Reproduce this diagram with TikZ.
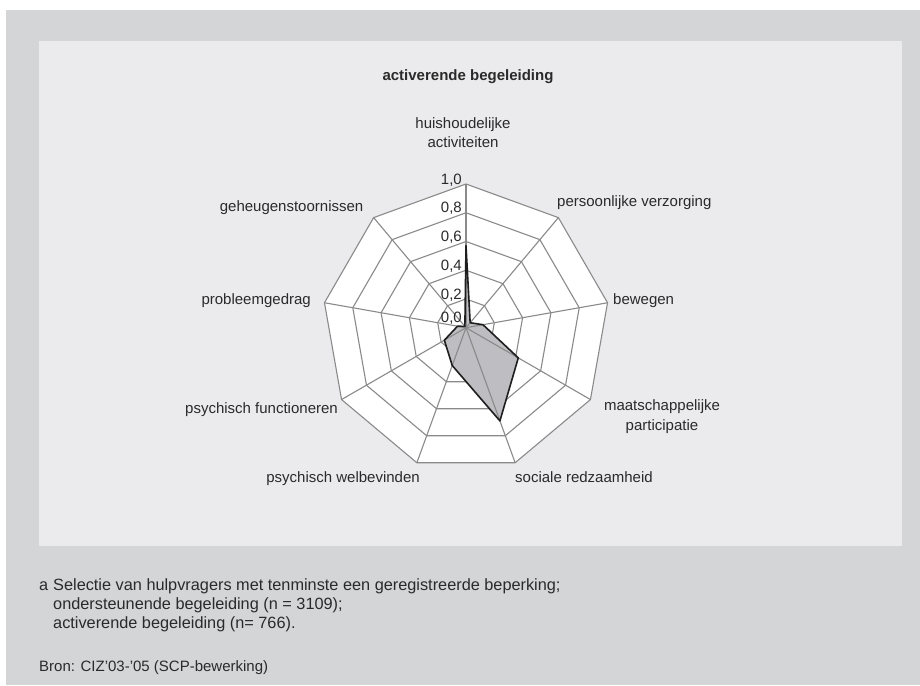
\documentclass[tikz,border=0pt]{standalone}
\usepackage{fontspec}
\setmainfont{Liberation Sans}
\definecolor{outerbg}{HTML}{D4D5D7}
\definecolor{panelbg}{HTML}{EBEBED}
\definecolor{txt}{HTML}{2A2A2A}
\definecolor{gridc}{HTML}{8A8A8A}
\definecolor{areafill}{HTML}{BEBEC2}
\definecolor{areaedge}{HTML}{1E1E1E}
\begin{document}
\begin{tikzpicture}[x=1pt,y=-1pt,
  lbl/.style={font=\fontsize{15}{18}\selectfont, text=txt, inner sep=0pt},
  note/.style={font=\fontsize{16.3}{19}\selectfont, text=txt, inner sep=0pt},
  ttl/.style={font=\fontsize{15}{18}\selectfont\bfseries, text=txt, inner sep=0pt},
  gridline/.style={draw=gridc, line width=1.1pt, line join=miter},
  area/.style={fill=areafill},
  arealine/.style={draw=areaedge, line width=1.6pt, line join=round}]
\useasboundingbox (0,0) rectangle (920,685);
% page, outer frame and chart panel
\fill[white] (0,0) rectangle (920,685);
\fill[outerbg] (6,10) rectangle (920,685);
\fill[panelbg] (39,41) rectangle (902,546);

% radar web: centre and full radius
\def\cx{466}\def\cy{327.7}\def\R{143.7}
\coordinate (O) at (\cx,\cy);
\foreach \i in {0,...,8}
  \coordinate (v\i) at ({\cx+\R*cos(90-40*\i)},{\cy-\R*sin(90-40*\i)});
\fill[white] (v0) -- (v1) -- (v2) -- (v3) -- (v4) -- (v5) -- (v6) -- (v7) -- (v8) -- cycle;
\foreach \k in {1,...,5}{
  \pgfmathsetmacro\r{\k*\R/5}
  \draw[gridline] ({\cx+\r*cos(90)},{\cy-\r*sin(90)})
    \foreach \i in {1,...,8}{ -- ({\cx+\r*cos(90-40*\i)},{\cy-\r*sin(90-40*\i)}) } -- cycle;
}

% data series
\foreach \v [count=\i from 0] in {0.57,0.045,0.12,0.42,0.69,0.28,0.174,0.06,0.012}
  \coordinate (d\i) at ({\cx+\v*\R*cos(90-40*\i)},{\cy-\v*\R*sin(90-40*\i)});
\fill[area] (d0) -- (d1) -- (d2) -- (d3) -- (d4) -- (d5) -- (d6) -- (d7) -- (d8) -- cycle;
% spokes
\foreach \i in {0,...,8} \draw[gridline] (O) -- (v\i);
\draw[arealine] (d0) -- (d1) -- (d2) -- (d3) -- (d4) -- (d5) -- (d6) -- (d7) -- (d8) -- cycle;

% scale values
\foreach \yy/\t [count=\n] in {184/{1,0},212.7/{0,8},241.5/{0,6},270.2/{0,4},299/{0,2},322/{0,0}}
  \node[lbl, anchor=base east] (s\n) at (462,\yy) {\t};

% title
\node[ttl, anchor=base] (title) at (468,80.7) {activerende begeleiding};

% axis labels
\node[lbl, anchor=base] (ax0a) at (463,128) {huishoudelijke};
\node[lbl, anchor=base] (ax0b) at (463,147) {activiteiten};
\node[lbl, anchor=base west] (ax1) at (557,206) {persoonlijke verzorging};
\node[lbl, anchor=base west] (ax2) at (613,304) {bewegen};
\node[lbl, anchor=base] (ax3a) at (662,410) {maatschappelijke};
\node[lbl, anchor=base] (ax3b) at (662,430.5) {participatie};
\node[lbl, anchor=base west] (ax4) at (515,482.7) {sociale redzaamheid};
\node[lbl, anchor=base east] (ax5) at (420,482.7) {psychisch welbevinden};
\node[lbl, anchor=base east] (ax6) at (338,413) {psychisch functioneren};
\node[lbl, anchor=base east] (ax7) at (311,304) {probleemgedrag};
\node[lbl, anchor=base east] (ax8) at (363.5,211.5) {geheugenstoornissen};

% footnotes
\node[note, anchor=base west] (fa) at (39,590.7) {a};
\node[note, anchor=base west] (f1) at (53,590.7) {Selectie van hulpvragers met tenminste een geregistreerde beperking;};
\node[note, anchor=base west] (f2) at (53,609.3) {ondersteunende begeleiding (n = 3109);};
\node[note, anchor=base west] (f3) at (53,628.3) {activerende begeleiding (n= 766).};
\node[lbl, anchor=base west] (src) at (39,671.7) {Bron: CIZ’03-’05 (SCP-bewerking)};
\end{tikzpicture}
\end{document}
